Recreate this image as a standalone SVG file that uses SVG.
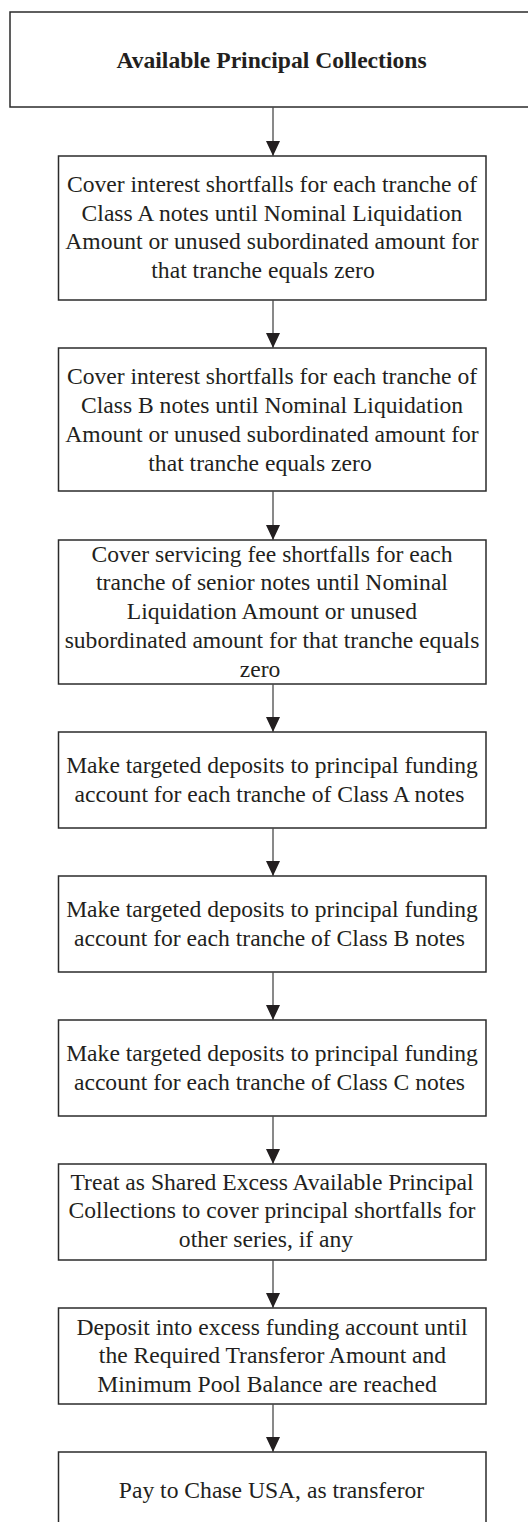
<svg xmlns="http://www.w3.org/2000/svg" width="528" height="1522" viewBox="0 0 528 1522">
<style>
.box{fill:#ffffff;stroke:#2b2b2b;stroke-width:1.5}
.t{font-family:"Liberation Serif","DejaVu Serif",serif;font-size:23.6px;fill:#231f20;text-anchor:middle}
.b{font-weight:bold}
.conn line{stroke:#4a4a4a;stroke-width:1.3}
</style>
<defs>
<marker id="ah" markerUnits="userSpaceOnUse" markerWidth="15" markerHeight="14" refX="15" refY="7" orient="auto" viewBox="0 0 15 14">
<path d="M0,0 L15,7 L0,14 Z" fill="#231f20"/>
</marker>
</defs>
<rect width="528" height="1522" fill="#ffffff"/>
<g id="n0">
<rect class="box" x="10" y="12" width="530" height="95"/>
<text class="t b" x="271.5" y="68">Available Principal Collections</text>
</g>
<g id="n1">
<rect class="box" x="58.5" y="156" width="427.5" height="144"/>
<text class="t" x="272" y="192">Cover interest shortfalls for each tranche of</text>
<text class="t" x="272" y="221">Class A notes until Nominal Liquidation</text>
<text class="t" x="272" y="249">Amount or unused subordinated amount for</text>
<text class="t" x="263" y="278">that tranche equals zero</text>
</g>
<g id="n2">
<rect class="box" x="58.5" y="348" width="427.5" height="143"/>
<text class="t" x="272" y="384">Cover interest shortfalls for each tranche of</text>
<text class="t" x="272" y="413">Class B notes until Nominal Liquidation</text>
<text class="t" x="272" y="442">Amount or unused subordinated amount for</text>
<text class="t" x="260" y="471">that tranche equals zero</text>
</g>
<g id="n3">
<rect class="box" x="58.5" y="540" width="427.5" height="144"/>
<text class="t" x="272" y="562">Cover servicing fee shortfalls for each</text>
<text class="t" x="272" y="590">tranche of senior notes until Nominal</text>
<text class="t" x="272" y="619">Liquidation Amount or unused</text>
<text class="t" x="272" y="648">subordinated amount for that tranche equals</text>
<text class="t" x="260" y="677">zero</text>
</g>
<g id="n4">
<rect class="box" x="58.5" y="732" width="427.5" height="96"/>
<text class="t" x="272" y="773">Make targeted deposits to principal funding</text>
<text class="t" x="269.5" y="802">account for each tranche of Class A notes</text>
</g>
<g id="n5">
<rect class="box" x="58.5" y="876" width="427.5" height="96"/>
<text class="t" x="272" y="917">Make targeted deposits to principal funding</text>
<text class="t" x="269.5" y="946">account for each tranche of Class B notes</text>
</g>
<g id="n6">
<rect class="box" x="58.5" y="1020" width="427.5" height="96"/>
<text class="t" x="272" y="1061">Make targeted deposits to principal funding</text>
<text class="t" x="269.5" y="1090">account for each tranche of Class C notes</text>
</g>
<g id="n7">
<rect class="box" x="58.5" y="1164" width="427.5" height="96"/>
<text class="t" x="272" y="1190">Treat as Shared Excess Available Principal</text>
<text class="t" x="272" y="1218">Collections to cover principal shortfalls for</text>
<text class="t" x="266" y="1247">other series, if any</text>
</g>
<g id="n8">
<rect class="box" x="58.5" y="1308" width="427.5" height="96"/>
<text class="t" x="272" y="1335">Deposit into excess funding account until</text>
<text class="t" x="272.5" y="1363">the Required Transferor Amount and</text>
<text class="t" x="267" y="1392">Minimum Pool Balance are reached</text>
</g>
<g id="n9">
<rect class="box" x="58.5" y="1452" width="427.5" height="100"/>
<text class="t" x="271.5" y="1498">Pay to Chase USA, as transferor</text>
</g>
<g id="connectors" class="conn">
<line x1="273" y1="107" x2="273" y2="156" marker-end="url(#ah)"/>
<line x1="273" y1="300" x2="273" y2="348" marker-end="url(#ah)"/>
<line x1="273" y1="491" x2="273" y2="540" marker-end="url(#ah)"/>
<line x1="273" y1="684" x2="273" y2="732" marker-end="url(#ah)"/>
<line x1="273" y1="828" x2="273" y2="876" marker-end="url(#ah)"/>
<line x1="273" y1="972" x2="273" y2="1020" marker-end="url(#ah)"/>
<line x1="273" y1="1116" x2="273" y2="1164" marker-end="url(#ah)"/>
<line x1="273" y1="1260" x2="273" y2="1308" marker-end="url(#ah)"/>
<line x1="273" y1="1404" x2="273" y2="1452" marker-end="url(#ah)"/>
</g>
</svg>
